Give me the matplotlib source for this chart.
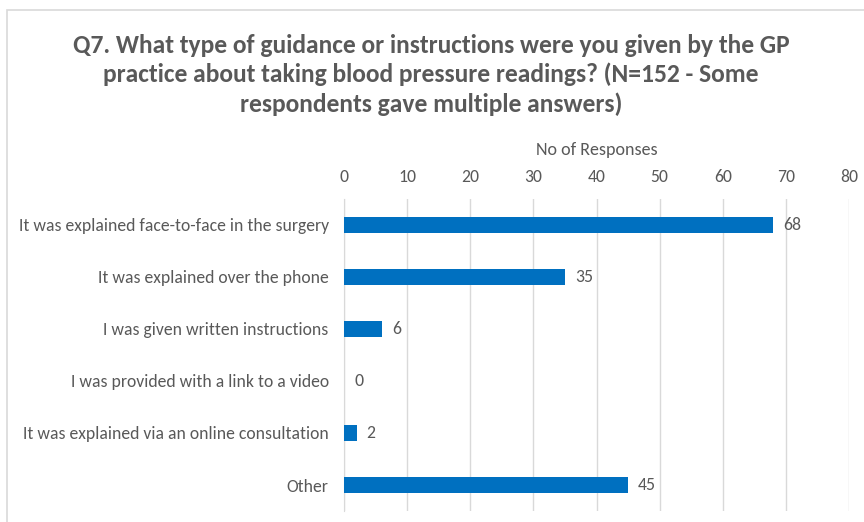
import matplotlib.pyplot as plt
from matplotlib.patches import Rectangle

categories = [
    'It was explained face-to-face in the surgery',
    'It was explained over the phone',
    'I was given written instructions',
    'I was provided with a link to a video',
    'It was explained via an online consultation',
    'Other',
]
responses = [68, 35, 6, 0, 2, 45]
x_ticks = [0, 10, 20, 30, 40, 50, 60, 70, 80]

title = ('Q7. What type of guidance or instructions were you given by the GP\n'
         'practice about taking blood pressure readings? (N=152 - Some\n'
         'respondents gave multiple answers)')

plt.rcParams['font.family'] = ['Carlito', 'Liberation Sans Narrow', 'Open Sans', 'DejaVu Sans']
text_col = '#595959'
bar_col = '#0070C0'

fig = plt.figure(figsize=(8.64, 5.22), dpi=100)

# chart area outline (runs off the right and bottom edges)
fig.patches.append(Rectangle((7 / 864, -0.05), 1.0, 1 - 10 / 522 + 0.05,
                             transform=fig.transFigure, fill=False,
                             edgecolor='#D9D9D9', linewidth=1.2))

ax = fig.add_axes([344 / 864, 1 - 511 / 522, 505 / 864, 312 / 522])

pos = list(range(len(categories)))
ax.barh(pos, responses, height=0.31, color=bar_col, linewidth=0, zorder=3)
for p, v in zip(pos, responses):
    ax.text(v + 1.6, p, str(v), va='center', ha='left', fontsize=12.8, color=text_col)

ax.set_xlim(0, 80)
ax.set_ylim(len(categories) - 0.5, -0.5)
ax.set_xticks(x_ticks)
ax.set_yticks(pos)
ax.set_yticklabels(categories)
ax.xaxis.tick_top()
ax.xaxis.set_label_position('top')
ax.set_xlabel('No of Responses', fontsize=13, color=text_col, labelpad=10)
ax.tick_params(axis='x', length=0, pad=10, labelsize=12.7, labelcolor=text_col)
ax.tick_params(axis='y', length=0, pad=11, labelsize=12.7, labelcolor=text_col)
ax.grid(axis='x', color='#D9D9D9', linewidth=1.0, zorder=0)
for side in ['top', 'right', 'bottom']:
    ax.spines[side].set_visible(False)
ax.spines['left'].set_color('#D9D9D9')

fig.text(431 / 864, 1 - 34 / 522, title, ha='center', va='top', fontsize=18.4,
         fontweight='bold', color=text_col, linespacing=1.3)

fig.savefig('out.png', dpi=100)
